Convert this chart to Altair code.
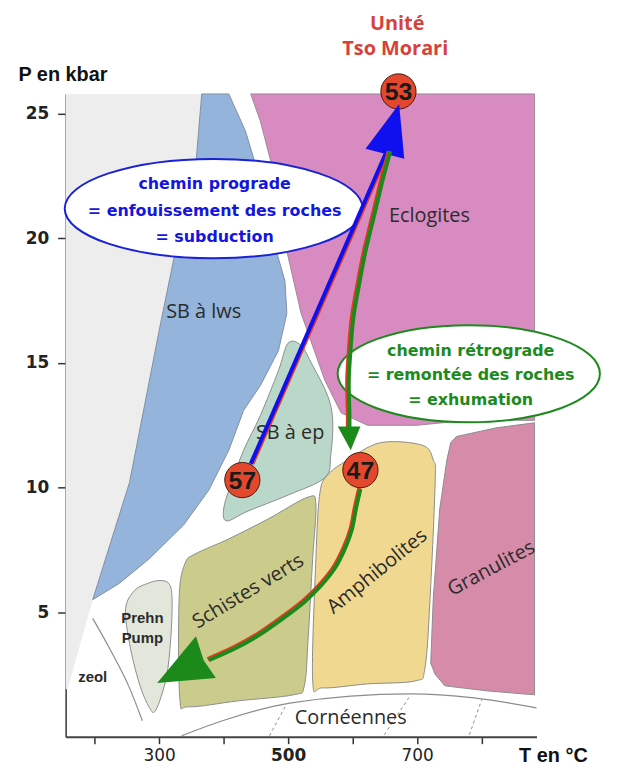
import altair as alt
import pandas as pd

# ---------------- data (T in °C, P in kbar) ----------------
x_ticks = [200, 300, 400, 500, 600, 700, 800]
x_labelled = [300, 500, 700]
y_ticks = [5, 10, 15, 20, 25]

hatch_T = [155, 366, 357, 326, 300, 254, 197, 158, 155]
hatch_P = [25.8, 25.8, 23.0, 19.6, 16.3, 10.2, 5.5, 1.9, 1.9]

lws_T = [366, 408, 434, 457, 477, 495, 498, 485, 457, 431, 408, 377, 338, 285, 238, 197, 254, 300, 326, 357]
lws_P = [25.8, 25.8, 24.3, 22.3, 19.9, 18.3, 17.0, 15.5, 14.1, 13.1, 11.5, 9.9, 8.5, 7.15, 6.15, 5.5, 10.2, 16.3, 19.6, 23.0]

ecl_T = [442, 882, 882, 777, 700, 623, 582, 557, 520, 497, 474, 457]
ecl_P = [25.8, 25.8, 12.7, 12.7, 12.5, 12.5, 13.0, 14.3, 17.0, 19.6, 23.0, 24.7]

ep_T = [500, 520, 538, 561, 569, 566, 557, 500, 438, 405, 400, 411, 431, 457, 485]
ep_P = [15.8, 15.7, 14.9, 13.7, 12.7, 11.3, 10.4, 9.7, 9.06, 8.66, 9.14, 10.1, 11.5, 12.9, 14.7]

sv_T = [357, 408, 469, 531, 543, 538, 531, 525, 508, 423, 346, 332, 331, 340]
sv_P = [7.35, 7.94, 8.74, 9.62, 9.3, 7.15, 3.95, 2.04, 1.68, 1.44, 1.2, 1.56, 5.55, 6.95]

am_T = [561, 592, 643, 708, 725, 728, 720, 712, 697, 623, 554, 538, 543, 549]
am_P = [10.5, 11.1, 11.8, 11.7, 11.1, 10.3, 5.55, 2.75, 2.24, 2.12, 1.96, 2.28, 7.15, 9.74]

gr_T = [761, 823, 882, 882, 808, 743, 728, 721, 725, 735, 746, 752]
gr_P = [12.05, 12.4, 12.6, 1.68, 1.84, 2.04, 2.5, 2.95, 5.55, 9.14, 11.1, 11.8]

pp_T = [300, 315, 320, 318, 311, 295, 285, 269, 254, 248, 262, 282]
pp_P = [6.27, 6.15, 5.55, 3.95, 2.36, 1.08, 1.16, 2.16, 3.75, 5.15, 5.87, 6.15]

zeol_T = [197, 223, 254, 274]
zeol_P = [4.75, 3.55, 1.96, 0.64]

corn_T = [335, 403, 505, 689, 788, 885]
corn_P = [0.04, 0.68, 1.36, 1.72, 1.56, 1.16]

dash_id = [1, 1, 2, 2, 3, 3]
dash_T = [497, 471, 689, 649, 800, 781]
dash_P = [1.28, 0.04, 1.64, 0.08, 1.48, 0.08]

pro_T = [442, 651]
pro_P = [10.95, 23.4]
pro_head_T = [672, 620, 680]
pro_head_P = [25.4, 23.6, 23.2]

retro1_T = [658.5, 646, 634, 620, 611, 601.5, 597, 594, 595, 595]
retro1_P = [23.5, 22.3, 21.0, 19.5, 18.3, 16.9, 15.65, 14.3, 13.0, 12.4]
retro1_head_T = [577, 612, 597]
retro1_head_P = [12.45, 12.45, 11.5]

retro2_T = [612, 605, 599, 588, 572, 551, 526, 492, 454, 418, 377]
retro2_P = [9.94, 9.14, 8.34, 7.55, 6.75, 6.07, 5.43, 4.75, 4.07, 3.55, 3.07]
retro2_head_T = [297, 357, 369, 388]
retro2_head_P = [2.16, 4.03, 3.07, 2.36]

samples = ["53", "57", "47"]
samples_T = [671, 429, 612]
samples_P = [25.9, 10.3, 10.7]

facies = ["Eclogites", "SB à lws", "SB à ep", "Schistes verts", "Amphibolites", "Granulites", "Cornéennes"]
facies_T = [719, 369, 503, 438, 638, 815, 597]
facies_P = [20.9, 17.05, 12.2, 5.83, 6.63, 6.75, 0.76]
facies_angle = [0, 0, 0, 329, 321, 332, 0]

small = ["Prehn", "Pump", "zeol"]
small_T = [274, 274, 197]
small_P = [4.75, 3.95, 2.4]

pro_text = ["chemin prograde", "= enfouissement des roches", "= subduction"]
pro_text_T = [386, 386, 386]
pro_text_P = [22.2, 21.1, 20.05]
pro_ell_T, pro_ell_P = [384.6], [21.2]

retro_text = ["chemin rétrograde", "= remontée des roches", "= exhumation"]
retro_text_T = [783, 783, 783]
retro_text_P = [15.5, 14.5, 13.5]
retro_ell_T, retro_ell_P = [780], [14.57]

unit_text = ["Unité", "Tso Morari"]
unit_T = [669, 666]
unit_P = [28.6, 27.6]

# ---------------- helpers ----------------
XS = alt.Scale(domain=[155, 885], nice=False, zero=False)
YS = alt.Scale(domain=[0, 25.8], nice=False, zero=False)

label_test = " || ".join(f"datum.value == {v}" for v in x_labelled)
X = alt.X("T:Q", scale=XS, axis=alt.Axis(
    values=x_ticks, labelExpr=f"({label_test}) ? datum.label : ''",
    title="T en °C", titleX=456, titleY=19, titleAlign="left", titleBaseline="middle",
    titleFont="Liberation Sans", titleFontSize=20, titleFontWeight="bold", titleColor="#111",
    labelFont="DejaVu Sans", labelFontSize=17, labelColor="#222",
    labelFontWeight={"condition": {"test": "datum.value == 500", "value": "bold"}, "value": "normal"},
    grid=False, domainColor="#444", domainWidth=2, tickColor="#333", tickWidth=1.5, tickSize=7,
    labelPadding=4))
Y = alt.Y("P:Q", scale=YS, axis=alt.Axis(
    values=y_ticks, title="P en kbar", titleAngle=0, titleX=-48, titleY=-20,
    titleAlign="left", titleBaseline="middle", titleFont="Liberation Sans", titleFontSize=20,
    titleFontWeight="bold", titleColor="#111",
    labelFont="DejaVu Sans", labelFontSize=17, labelFontWeight="bold", labelColor="#222",
    grid=False, domainColor="#333", domainWidth=1.5, tickColor="#333", tickWidth=1.5, tickSize=8,
    labelPadding=9))


def frame(Ts, Ps, **extra):
    d = {"T": Ts, "P": Ps, "i": list(range(len(Ts)))}
    d.update(extra)
    return pd.DataFrame(d)


def poly(Ts, Ps, fill, stroke="#8c8c8c", width=1.0, interp="linear-closed"):
    kw = dict(fill=fill, interpolate=interp, opacity=1)
    if stroke:
        kw.update(stroke=stroke, strokeWidth=width)
    else:
        kw.update(strokeOpacity=0)
    return alt.Chart(frame(Ts, Ps)).mark_line(**kw).encode(x=X, y=Y, order="i:Q")


def path(Ts, Ps, color, width, interp="linear", **kw):
    return alt.Chart(frame(Ts, Ps)).mark_line(
        color=color, strokeWidth=width, interpolate=interp, strokeCap="butt", **kw
    ).encode(x=X, y=Y, order="i:Q")


layers = [
    poly(hatch_T, hatch_P, "#ededed", stroke=None),
    poly(lws_T, lws_P, "#95b4db", stroke="#7f8fa3"),
    poly(ecl_T, ecl_P, "#d78bc0", stroke="#9a8a95"),
    poly(ep_T, ep_P, "#bad8c9", interp="cardinal-closed"),
    poly(sv_T, sv_P, "#cbcb8c", interp="cardinal-closed"),
    poly(am_T, am_P, "#f1d890", interp="cardinal-closed"),
    poly(gr_T, gr_P, "#d68ba8"),
    poly(pp_T, pp_P, "#e3e6da", interp="cardinal-closed"),
    path(zeol_T, zeol_P, "#8c8c8c", 1.2, interp="monotone"),
    path(corn_T, corn_P, "#8c8c8c", 1.2, interp="monotone"),
    alt.Chart(pd.DataFrame({"T": dash_T, "P": dash_P, "g": dash_id})).mark_line(
        color="#8c8c8c", strokeWidth=1, strokeDash=[3, 3]).encode(x=X, y=Y, detail="g:N"),
]

# facies labels
fac_df = pd.DataFrame({"T": facies_T, "P": facies_P, "txt": facies, "a": facies_angle})
for k in range(len(facies)):
    layers.append(alt.Chart(fac_df.iloc[[k]]).mark_text(
        font="Open Sans", fontSize=20, color="#2b2b2b", angle=int(facies_angle[k]),
        align="center", baseline="middle").encode(x=X, y=Y, text="txt:N"))

layers.append(alt.Chart(pd.DataFrame({"T": small_T, "P": small_P, "txt": small})).mark_text(
    font="Liberation Sans", fontSize=15, fontWeight="bold", color="#2b2b2b",
    align="center", baseline="middle").encode(x=X, y=Y, text="txt:N"))

# ellipses
layers.append(alt.Chart(pd.DataFrame({"T": pro_ell_T, "P": pro_ell_P})).mark_point(
    shape="M-1,0A1,0.3333,0,1,1,1,0A1,0.3333,0,1,1,-1,0Z", size=300 * 300,
    filled=True, fill="white", stroke="#1a22d8", strokeWidth=2, opacity=1).encode(x=X, y=Y))
layers.append(alt.Chart(pd.DataFrame({"T": retro_ell_T, "P": retro_ell_P})).mark_point(
    shape="M-1,0A1,0.37,0,1,1,1,0A1,0.37,0,1,1,-1,0Z", size=264 * 264,
    filled=True, fill="white", stroke="#1d8a1d", strokeWidth=2, opacity=1).encode(x=X, y=Y))
layers.append(alt.Chart(pd.DataFrame({"T": pro_text_T, "P": pro_text_P, "txt": pro_text})).mark_text(
    font="DejaVu Sans", fontSize=16, fontWeight="bold", color="#1515e0",
    align="center", baseline="middle").encode(x=X, y=Y, text="txt:N"))
layers.append(alt.Chart(pd.DataFrame({"T": retro_text_T, "P": retro_text_P, "txt": retro_text})).mark_text(
    font="DejaVu Sans", fontSize=16, fontWeight="bold", color="#1d8a1d",
    align="center", baseline="middle").encode(x=X, y=Y, text="txt:N"))

# sample circles
samp_df = pd.DataFrame({"T": samples_T, "P": samples_P, "txt": samples})
layers.append(alt.Chart(samp_df).mark_point(
    shape="circle", size=1257, filled=True, fill="#e4482c", stroke="#4a1a10",
    strokeWidth=1, opacity=1).encode(x=X, y=Y))

# paths
layers += [
    path(pro_T, pro_P, "#e23a22", 4, xOffset=1.6),
    path(pro_T, pro_P, "#1010ee", 4),
    poly(pro_head_T, pro_head_P, "#1010ee", stroke=None),
    path(retro1_T, retro1_P, "#e23a22", 4, interp="cardinal", xOffset=-1.6),
    path(retro1_T, retro1_P, "#1b8a1b", 4, interp="cardinal"),
    poly(retro1_head_T, retro1_head_P, "#1b8a1b", stroke=None),
    path(retro2_T, retro2_P, "#e23a22", 4, interp="cardinal", xOffset=-1.2, yOffset=-1.2),
    path(retro2_T, retro2_P, "#1b8a1b", 4, interp="cardinal"),
    poly(retro2_head_T, retro2_head_P, "#1b8a1b", stroke=None),
]

layers.append(alt.Chart(samp_df).mark_text(
    font="Liberation Sans", fontSize=25, fontWeight="bold", color="#1a1a1a",
    align="center", baseline="middle", dy=1).encode(x=X, y=Y, text="txt:N"))

layers.append(alt.Chart(pd.DataFrame({"T": unit_T, "P": unit_P, "txt": unit_text})).mark_text(
    font="Open Sans", fontSize=20, fontWeight="bold", color="#d6423a",
    align="center", baseline="middle").encode(x=X, y=Y, text="txt:N"))

chart = alt.layer(*layers).properties(
    width=474, height=647,
    autosize=alt.AutoSizeParams(type="none"),
    padding={"left": 58, "top": 84, "right": 75, "bottom": 30},
).configure_view(stroke=None)

chart.save("out.html", embed_options={"renderer": "svg", "actions": False})
